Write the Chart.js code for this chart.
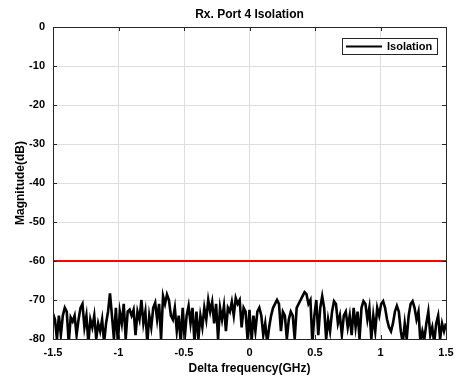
<!DOCTYPE html>
<html>
<head>
<meta charset="utf-8">
<script src="https://cdn.jsdelivr.net/npm/chart.js@4.4.1/dist/chart.umd.min.js"></script>
<style>
  html, body { margin: 0; padding: 0; background: #fff; }
  #wrap { width: 459px; height: 377px; }
</style>
</head>
<body>
<div id="wrap"><canvas id="chart" width="459" height="377"></canvas></div>
<script>
  // ---- Data ----
  const freqStart = -1.5;
  const freqStep = 0.015;
  const limitDb = -60;
  const xTicks = [-1.5, -1, -0.5, 0, 0.5, 1, 1.5];
  const yTicks = [0, -10, -20, -30, -40, -50, -60, -70, -80];
  const isolation = [
    -73.5, -75, -80, -74, -79, -74, -72, -73, -81, -74.5,
    -75.5, -74, -79, -75, -72, -71, -77, -74, -81, -75,
    -77, -74, -80, -76, -78, -75, -81, -76, -73, -68.3,
    -74, -80, -72, -81, -73, -76, -71, -80, -73, -72.5,
    -74, -72.5, -79, -73, -75, -70, -76, -73, -81, -74,
    -77, -72, -70.7, -75, -71, -80, -69, -71, -68.6, -70,
    -74, -75, -72, -78, -74, -81, -72, -80, -74, -71.5,
    -76, -72, -81, -73, -80, -74, -77, -72, -75, -70,
    -73, -70.5, -76, -71, -80, -72, -75, -71.5, -78, -72,
    -73, -70.5, -74, -69.5, -71, -70, -77, -72, -73, -80,
    -72.5, -81, -74, -78, -73, -72, -74, -79, -76, -81,
    -77, -74, -72, -71, -70, -71, -78, -73, -74, -80,
    -75, -73, -74, -80, -72, -71, -70, -69, -68, -68.5,
    -71, -70, -81, -74, -70, -79, -72, -69, -72, -80,
    -75, -78, -73, -70.3, -71, -76, -74, -79, -74, -73,
    -77, -74, -79, -72, -77, -73, -80, -72, -70.3, -71,
    -75, -72, -80, -74, -78, -72, -74, -71, -70.3, -72,
    -75, -77, -78, -76, -73, -71.5, -73, -78, -81, -76,
    -80, -74, -71, -70.3, -72, -75, -73, -81, -78, -80,
    -76, -73, -79, -77, -81, -76, -74, -80, -76, -78,
    -76
  ];

  const isoPoints = isolation.map((v, i) => ({ x: freqStart + i * freqStep, y: v }));
  const limitPoints = [{ x: xTicks[0], y: limitDb }, { x: xTicks[xTicks.length - 1], y: limitDb }];

  const FONT = '"Liberation Sans", Arial, Helvetica, sans-serif';

  // ---- box, inward ticks, title, legend ----
  const matlabFrame = {
    id: 'matlabFrame',
    afterDraw(chart) {
      const { ctx, chartArea: a, scales: { x, y } } = chart;
      ctx.save();
      ctx.strokeStyle = '#262626';
      ctx.lineWidth = 1;
      ctx.beginPath();
      const tl = 4;
      xTicks.forEach(t => {
        const px = Math.round(x.getPixelForValue(t)) + 0.5;
        ctx.moveTo(px, a.bottom); ctx.lineTo(px, a.bottom - tl);
        ctx.moveTo(px, a.top); ctx.lineTo(px, a.top + tl);
      });
      yTicks.forEach(t => {
        const py = Math.round(y.getPixelForValue(t)) + 0.5;
        ctx.moveTo(a.left, py); ctx.lineTo(a.left + tl, py);
        ctx.moveTo(a.right, py); ctx.lineTo(a.right - tl, py);
      });
      ctx.stroke();
      ctx.strokeRect(Math.round(a.left) + 0.5, Math.round(a.top) + 0.5,
        Math.round(a.right - a.left), Math.round(a.bottom - a.top));

      // title
      ctx.fillStyle = '#000';
      ctx.font = 'bold 12px ' + FONT;
      ctx.textAlign = 'center';
      ctx.textBaseline = 'middle';
      ctx.fillText('Rx. Port 4 Isolation', (a.left + a.right) / 2, 15);

      // legend
      const lx = 342, ly = 38, lw = 95, lh = 16;
      ctx.fillStyle = '#fff';
      ctx.fillRect(lx, ly, lw, lh);
      ctx.strokeStyle = '#262626';
      ctx.strokeRect(lx + 0.5, ly + 0.5, lw, lh);
      ctx.strokeStyle = '#000';
      ctx.lineWidth = 2;
      ctx.beginPath();
      ctx.moveTo(346, 46.5); ctx.lineTo(382, 46.5);
      ctx.stroke();
      ctx.fillStyle = '#000';
      ctx.font = 'bold 11px ' + FONT;
      ctx.textAlign = 'left';
      ctx.fillText('Isolation', 387, 46.5);
      ctx.restore();
    }
  };

  new Chart(document.getElementById('chart'), {
    type: 'line',
    data: {
      datasets: [
        {
          label: 'Isolation',
          data: isoPoints,
          borderColor: '#000',
          borderWidth: 2.6,
          pointRadius: 0,
          tension: 0,
        },
        {
          label: 'Limit',
          data: limitPoints,
          borderColor: '#ff0000',
          borderWidth: 2,
          pointRadius: 0,
        }
      ]
    },
    options: {
      responsive: false,
      animation: false,
      layout: { padding: { top: 27, right: 13, left: 0, bottom: 0 } },
      plugins: { legend: { display: false }, title: { display: false }, tooltip: { enabled: false } },
      scales: {
        x: {
          type: 'linear',
          min: -1.5, max: 1.5,
          afterFit: s => { s.height = 38; s.paddingLeft = 0; s.paddingRight = 0; },
          afterBuildTicks: s => { s.ticks = xTicks.map(v => ({ value: v })); },
          grid: { color: '#dedede', drawTicks: false },
          border: { display: false },
          ticks: {
            color: '#000', padding: 7,
            font: { family: FONT, size: 11, weight: 'bold' },
            callback: v => String(v),
          },
          title: {
            display: true, text: 'Delta frequency(GHz)', color: '#000',
            font: { family: FONT, size: 12, weight: 'bold' },
            padding: { top: 0, bottom: 1 },
          }
        },
        y: {
          min: -80, max: 0,
          afterFit: s => { s.width = 53; },
          afterBuildTicks: s => { s.ticks = yTicks.map(v => ({ value: v })); },
          grid: { color: '#dedede', drawTicks: false },
          border: { display: false },
          ticks: {
            color: '#000', padding: 8,
            font: { family: FONT, size: 11, weight: 'bold' },
          },
          title: {
            display: true, text: 'Magnitude(dB)', color: '#000',
            font: { family: FONT, size: 12, weight: 'bold' },
            padding: { top: 13, bottom: 0 },
          }
        }
      }
    },
    plugins: [matlabFrame]
  });
</script>
</body>
</html>
